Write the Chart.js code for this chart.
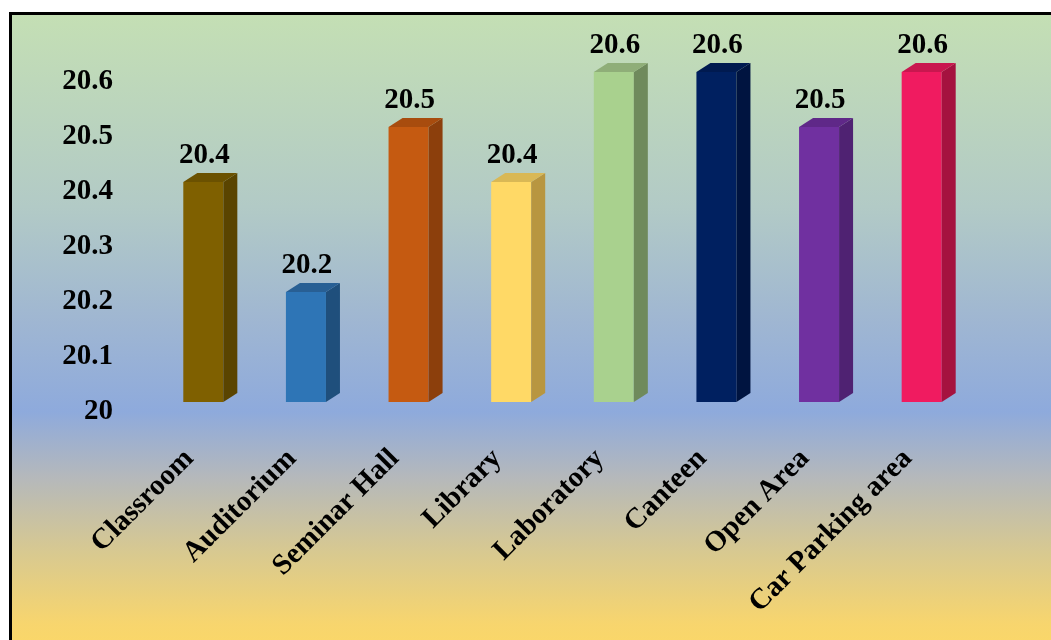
<!DOCTYPE html>
<html>
<head>
<meta charset="utf-8">
<script src="https://cdn.jsdelivr.net/npm/chart.js@4.4.1/dist/chart.umd.min.js"></script>
<style>
  html, body { margin: 0; padding: 0; background: #fff; overflow: hidden; }
  #frame {
    position: absolute; left: 9px; top: 12px; width: 1060px; height: 640px;
    border-left: 3px solid #000; border-top: 3px solid #000;
    background: linear-gradient(to bottom, #c4dfb4 0%, #b2cac6 30%, #9fb6d2 48%, #8eaadc 62%, #b4b8bc 72%, #d8c990 84%, #f7d56e 95%, #fcd866 100%);
  }
  #wrap { position: absolute; left: 0; top: 0; width: 1051px; height: 640px; }
</style>
</head>
<body>
<div id="frame"></div>
<div id="wrap"><canvas id="myChart" width="1051" height="640"></canvas></div>
<script>
(function() {
  var categories = ['Classroom', 'Auditorium', 'Seminar Hall', 'Library', 'Laboratory', 'Canteen', 'Open Area', 'Car Parking area'];
  var values = [20.4, 20.2, 20.5, 20.4, 20.6, 20.6, 20.5, 20.6];
  var yTicks = [20, 20.1, 20.2, 20.3, 20.4, 20.5, 20.6];

  var frontColors = ['#7f6000', '#2e75b6', '#c55a11', '#ffd966', '#a9d18e', '#002060', '#7030a0', '#f01b60'];
  var sideColors  = ['#5a4400', '#1f4f7c', '#8c3f0c', '#b89640', '#6f8a5c', '#001440', '#4f2272', '#a5123f'];
  var topColors   = ['#6b5100', '#285f94', '#a84c0e', '#d9b855', '#8fae78', '#001a50', '#5f2888', '#c9174f'];

  var serif = '"Liberation Serif", "Times New Roman", serif';
  var depthX = 14, depthY = 9;

  var bars3d = {
    id: 'bars3d',
    afterDatasetsDraw: function(chart) {
      var ctx = chart.ctx;
      var meta = chart.getDatasetMeta(0);
      meta.data.forEach(function(bar, i) {
        var w = bar.width, x1 = bar.x - w / 2, x2 = bar.x + w / 2, top = bar.y, base = bar.base;
        ctx.save();
        // side face
        ctx.fillStyle = sideColors[i];
        ctx.beginPath();
        ctx.moveTo(x2, top);
        ctx.lineTo(x2 + depthX, top - depthY);
        ctx.lineTo(x2 + depthX, base - depthY);
        ctx.lineTo(x2, base);
        ctx.closePath();
        ctx.fill();
        // top face
        ctx.fillStyle = topColors[i];
        ctx.beginPath();
        ctx.moveTo(x1, top);
        ctx.lineTo(x1 + depthX, top - depthY);
        ctx.lineTo(x2 + depthX, top - depthY);
        ctx.lineTo(x2, top);
        ctx.closePath();
        ctx.fill();
        // value label
        ctx.fillStyle = '#000';
        ctx.font = 'bold 29px ' + serif;
        ctx.textAlign = 'center';
        ctx.textBaseline = 'alphabetic';
        ctx.fillText(values[i].toFixed(1), bar.x + 1, top - 19);
        ctx.restore();
      });
    }
  };

  var ctx = document.getElementById('myChart').getContext('2d');
  new Chart(ctx, {
    type: 'bar',
    data: {
      labels: categories,
      datasets: [{
        data: values,
        base: 20,
        backgroundColor: frontColors,
        borderWidth: 0,
        barPercentage: 0.78,
        categoryPercentage: 0.5
      }]
    },
    options: {
      responsive: false,
      animation: false,
      layout: { padding: { top: 72, right: 78, left: 0, bottom: 0 } },
      plugins: { legend: { display: false }, tooltip: { enabled: false } },
      scales: {
        x: {
          grid: { display: false, drawTicks: false },
          border: { display: false },
          ticks: {
            color: '#000',
            font: { family: serif, size: 29, weight: 'bold' },
            minRotation: 45, maxRotation: 45,
            autoSkip: false,
            padding: 40,
            labelOffset: -14
          },
          afterFit: function(scale) { scale.height = 238; }
        },
        y: {
          min: 20, max: 20.6,
          grid: { display: false, drawTicks: false },
          border: { display: false },
          afterBuildTicks: function(scale) {
            scale.ticks = yTicks.map(function(v) { return { value: v }; });
          },
          ticks: {
            color: '#000',
            font: { family: serif, size: 29, weight: 'bold' },
            padding: 39,
            labelOffset: 10,
            callback: function(v) { return String(Math.round(v * 10) / 10); }
          },
          afterFit: function(scale) { scale.width = 152; }
        }
      }
    },
    plugins: [bars3d]
  });
})();
</script>
</body>
</html>
